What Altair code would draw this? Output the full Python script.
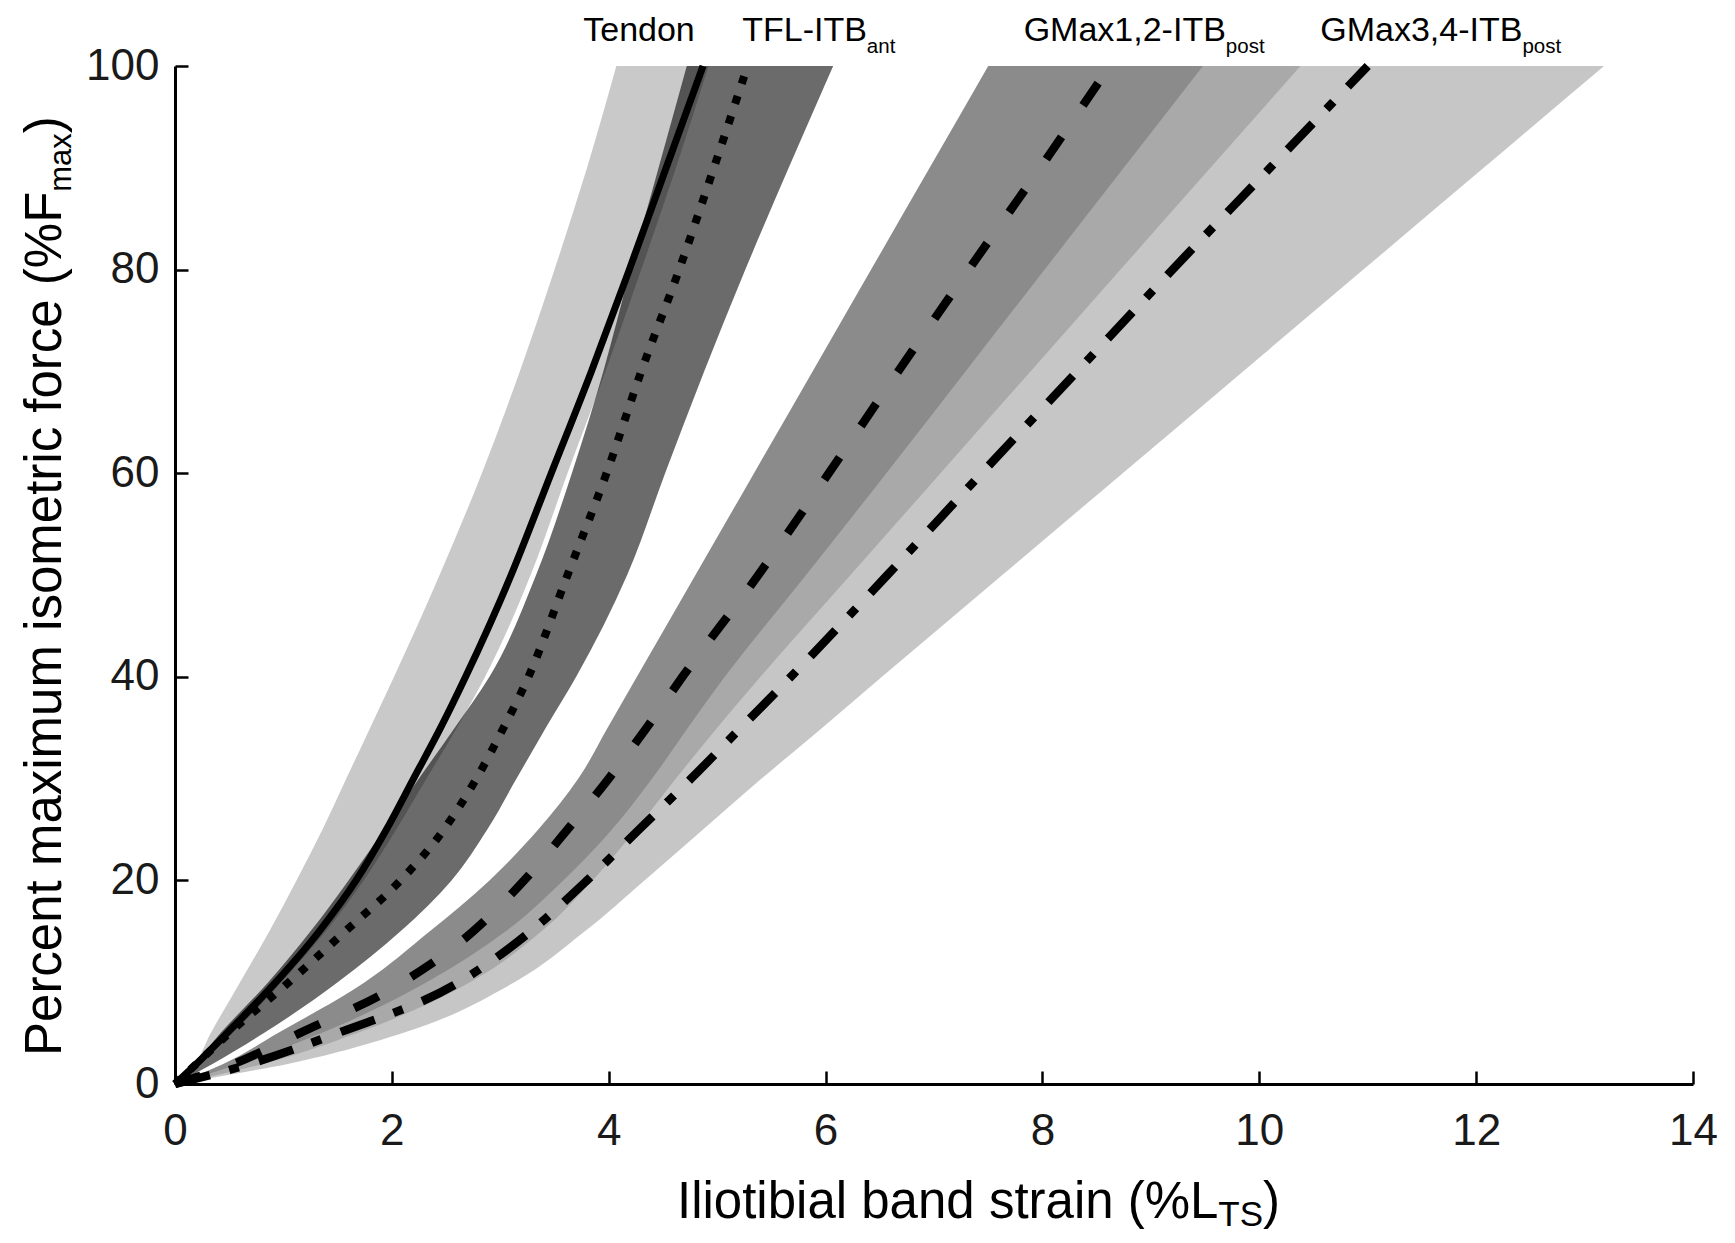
import altair as alt
import pandas as pd

# ---------------- data ----------------
force_levels = [0, 2, 5, 10, 15, 20, 25, 30, 35, 40, 50, 60, 70, 80, 90, 100]

tendon_lo   = [0, 0.18, 0.33, 0.60, 0.87, 1.12, 1.36, 1.58, 1.80, 2.02, 2.44, 2.83, 3.18, 3.50, 3.80, 4.07]
tendon_hi   = [0, 0.22, 0.53, 0.98, 1.39, 1.74, 2.04, 2.32, 2.60, 2.86, 3.28, 3.62, 3.97, 4.30, 4.62, 4.92]
tendon_mean = [0, 0.20, 0.48, 0.93, 1.33, 1.67, 1.95, 2.20, 2.45, 2.68, 3.10, 3.47, 3.84, 4.19, 4.53, 4.87]

tfl_lo   = [0, 0.18, 0.42, 0.86, 1.25, 1.60, 1.93, 2.25, 2.58, 2.90, 3.33, 3.66, 3.95, 4.20, 4.46, 4.72]
tfl_hi   = [0, 0.35, 0.82, 1.50, 2.08, 2.55, 2.88, 3.15, 3.42, 3.70, 4.17, 4.52, 4.88, 5.26, 5.66, 6.07]
tfl_mean = [0, 0.20, 0.50, 1.05, 1.57, 2.08, 2.48, 2.78, 3.03, 3.26, 3.62, 3.98, 4.30, 4.65, 4.97, 5.28]

g12_lo   = [0, 0.45, 0.95, 1.75, 2.35, 2.90, 3.35, 3.72, 3.99, 4.26, 4.80, 5.34, 5.88, 6.42, 6.96, 7.50]
g12_hi   = [0, 0.82, 1.68, 2.72, 3.38, 3.85, 4.25, 4.62, 5.00, 5.40, 6.23, 7.06, 7.89, 8.72, 9.55, 10.38]
g12_mean = [0, 0.55, 1.15, 2.10, 2.75, 3.22, 3.62, 4.00, 4.35, 4.68, 5.38, 6.03, 6.67, 7.32, 7.98, 8.62]

g34_lo   = [0, 0.60, 1.35, 2.32, 3.05, 3.58, 4.03, 4.40, 4.73, 5.07, 5.82, 6.56, 7.29, 8.02, 8.75, 9.48]
g34_hi   = [0, 1.05, 2.10, 3.13, 3.78, 4.33, 4.87, 5.41, 5.97, 6.52, 7.63, 8.74, 9.85, 10.96, 12.07, 13.18]
g34_mean = [0, 0.70, 1.50, 2.62, 3.28, 3.80, 4.28, 4.76, 5.22, 5.68, 6.57, 7.44, 8.32, 9.20, 10.10, 11.00]

x_ticks = [0, 2, 4, 6, 8, 10, 12, 14]
y_ticks = [0, 20, 40, 60, 80, 100]

label_main = ["Tendon", "TFL-ITB", "GMax1,2-ITB", "GMax3,4-ITB"]
label_sub = ["", "ant", "post", "post"]
label_x = [3.765, 5.231, 7.827, 10.562]

x_title, x_title_sub = "Iliotibial band strain (%L", "TS"
y_title, y_title_sub = "Percent maximum isometric force (%F", "max"

# ---------------- layout / style ----------------
W, H = 1518, 1018
PX = W / 14.0
FONT = "Liberation Sans, Arial, Helvetica, sans-serif"

AW = {' ': 278, '%': 889, '(': 333, ')': 333, ',': 278, '-': 333, '1': 556, '2': 556,
      '3': 556, '4': 556, 'B': 667, 'F': 611, 'G': 778, 'I': 278, 'L': 556, 'M': 833,
      'P': 667, 'S': 667, 'T': 611, 'a': 556, 'b': 556, 'c': 500, 'd': 556, 'e': 556,
      'f': 278, 'i': 222, 'l': 222, 'm': 833, 'n': 556, 'o': 556, 'p': 556, 'r': 333,
      's': 500, 't': 278, 'u': 556, 'x': 500}


def text_w(s, size):
    return sum(AW.get(c, 556) for c in s) / 1000.0 * size


xs = alt.Scale(domain=[0, 14], nice=False, zero=False)
ys = alt.Scale(domain=[0, 100], nice=False, zero=False)


def band(lo, hi, color, opacity=1.0):
    df = pd.DataFrame({"y": force_levels, "lo": lo, "hi": hi})
    return alt.Chart(df).mark_area(
        orient="horizontal", interpolate="monotone", color=color, opacity=opacity
    ).encode(
        x=alt.X("lo:Q", scale=xs, axis=None, stack=None),
        x2="hi:Q",
        y=alt.Y("y:Q", scale=ys, axis=None),
    )


def line(xv, dash, width):
    df = pd.DataFrame({"y": force_levels, "x": xv})
    kw = dict(color="black", strokeWidth=width, strokeCap="butt", strokeJoin="round",
              interpolate="monotone", orient="horizontal")
    if dash:
        kw["strokeDash"] = dash
    return alt.Chart(df).mark_line(**kw).encode(
        x=alt.X("x:Q", scale=xs, axis=None),
        y=alt.Y("y:Q", scale=ys, axis=None),
        order=alt.Order("y:Q"),
    )


frame_df = pd.DataFrame({"x": [0, 14], "y": [0, 100]})

axis_main = alt.Chart(frame_df).mark_point(opacity=0).encode(
    x=alt.X("x:Q", scale=xs, axis=alt.Axis(
        orient="bottom", values=x_ticks, format="d", title=None, grid=False,
        ticks=False, tickSize=0, domain=True, domainColor="black", domainWidth=3,
        labelFont=FONT, labelFontSize=44, labelColor="#1a1a1a", labelPadding=25,
        labelFlush=False, labelOverlap=False)),
    y=alt.Y("y:Q", scale=ys, axis=alt.Axis(
        orient="left", values=y_ticks, format="d", title=None, grid=False,
        ticks=False, tickSize=0, domain=True, domainColor="black", domainWidth=3,
        labelFont=FONT, labelFontSize=44, labelColor="#1a1a1a", labelPadding=16,
        labelOverlap=False)),
)

axis_ticks = alt.Chart(frame_df).mark_point(opacity=0).encode(
    x=alt.X("x:Q", scale=xs, axis=alt.Axis(
        orient="top", offset=-H, values=x_ticks, title=None, grid=False, labels=False,
        domain=False, ticks=True, tickSize=13, tickWidth=2.5, tickColor="black")),
    y=alt.Y("y:Q", scale=ys, axis=alt.Axis(
        orient="right", offset=-W, values=y_ticks, title=None, grid=False, labels=False,
        domain=False, ticks=True, tickSize=13, tickWidth=2.5, tickColor="black")),
)

# top labels
TOP_MAIN, TOP_SUB = 34, 20.5
top_df = pd.DataFrame({"x": label_x, "y": [100] * len(label_x), "t": label_main})
top_main = alt.Chart(top_df).mark_text(
    align="left", baseline="alphabetic", dy=-25, fontSize=TOP_MAIN, font=FONT, color="black"
).encode(x=alt.X("x:Q", scale=xs, axis=None), y=alt.Y("y:Q", scale=ys, axis=None), text="t:N")

sub_rows = [(lx + text_w(m, TOP_MAIN) / PX, s) for lx, m, s in zip(label_x, label_main, label_sub) if s]
sub_df = pd.DataFrame({"x": [r[0] for r in sub_rows], "y": [100] * len(sub_rows), "t": [r[1] for r in sub_rows]})
top_sub = alt.Chart(sub_df).mark_text(
    align="left", baseline="alphabetic", dy=-13, fontSize=TOP_SUB, font=FONT, color="black"
).encode(x=alt.X("x:Q", scale=xs, axis=None), y=alt.Y("y:Q", scale=ys, axis=None), text="t:N")

# axis titles (with subscripts)
T_SIZE, T_SUB = 51, 35
XT_X, XT_Y = 502, 1152
wx = text_w(x_title, T_SIZE)
wxs = text_w(x_title_sub, T_SUB)


def title_text(txt, size, **kw):
    return alt.Chart(pd.DataFrame({"t": [txt]})).mark_text(
        baseline="alphabetic", align="left", fontSize=size, font=FONT, color="black", **kw)


xt1 = title_text(x_title, T_SIZE).encode(x=alt.value(XT_X), y=alt.value(XT_Y), text="t:N")
xt2 = title_text(x_title_sub, T_SUB, dy=8).encode(x=alt.value(XT_X + wx), y=alt.value(XT_Y), text="t:N")
xt3 = title_text(")", T_SIZE).encode(x=alt.value(XT_X + wx + wxs), y=alt.value(XT_Y), text="t:N")

YT_X, YT_Y = -114, 990
YS = 31
wy = text_w(y_title, T_SIZE)
wys = text_w(y_title_sub, YS)
yt1 = title_text(y_title, T_SIZE, angle=270).encode(x=alt.value(YT_X), y=alt.value(YT_Y), text="t:N")
yt2 = title_text(y_title_sub, YS, angle=270, dx=wy, dy=10).encode(x=alt.value(YT_X), y=alt.value(YT_Y), text="t:N")
yt3 = title_text(")", T_SIZE, angle=270, dx=wy + wys).encode(x=alt.value(YT_X), y=alt.value(YT_Y), text="t:N")

chart = alt.layer(
    band(tfl_lo, tfl_hi, "#6b6b6b"),
    band(tendon_lo, tendon_hi, "#000000", 0.21),
    band(g12_lo, g12_hi, "#8b8b8b"),
    band(g34_lo, g34_hi, "#b3b3b3", 0.75),
    line(tendon_mean, None, 7),
    line(tfl_mean, [8, 13], 8),
    line(g12_mean, [27, 38], 8.5),
    line(g34_mean, [36, 20, 10, 21], 8.5),
    axis_main,
    axis_ticks,
    top_main,
    top_sub,
    xt1, xt2, xt3,
    yt1, yt2, yt3,
).resolve_axis(x="independent", y="independent").properties(
    width=W,
    height=H,
    autosize=alt.AutoSizeParams(type="none"),
    padding={"left": 167, "top": 58, "right": 30, "bottom": 148},
    background="white",
).configure_view(stroke=None)

chart.save("out.html", embed_options={"renderer": "svg", "actions": False})
